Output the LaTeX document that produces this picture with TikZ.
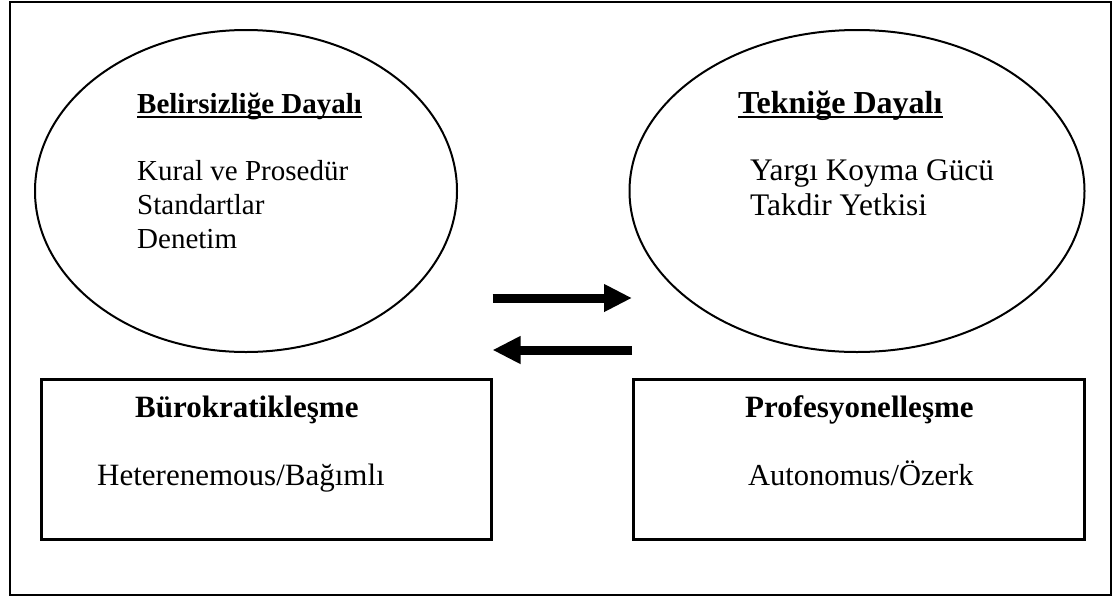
\documentclass[tikz,border=0pt]{standalone}
\usepackage{fontspec}
\setmainfont{Liberation Serif}
\usetikzlibrary{shapes.geometric,arrows.meta,positioning}

\tikzset{
  oval/.style={draw, ellipse, line width=2pt, minimum width=#1, minimum height=322pt, inner sep=0pt},
  panel/.style={draw, rectangle, line width=2.5pt, minimum width=#1, minimum height=160pt, inner sep=0pt, anchor=north west},
  heading/.style={anchor=base west, inner sep=0pt, font=\bfseries\fontsize{#1}{34}\selectfont},
  heading/.default=29,
  item/.style={anchor=base west, inner sep=0pt, font=\fontsize{#1}{34}\selectfont},
  item/.default=29,
  uline/.style={line width=2.5pt},
  bigarrow/.style={line width=9pt, -{Triangle[length=28pt,width=26pt]}}
}

\begin{document}
\begin{tikzpicture}[x=1pt,y=-1pt]
  \useasboundingbox (0,0) rectangle (1114,598);
  \draw[line width=2.5pt] (10,2) rectangle (1111,595);

  % ovals
  \node[oval=422pt] (lell) at (246,191) {};
  \node[oval=455pt] (rell) at (857,191) {};

  % boxes
  \node[panel=450pt] (lbox) at (40,378) {};
  \node[panel=451pt] (rbox) at (632,378) {};

  % left oval text
  \node[heading] (ltitle) at (137,113) {Belirsizliğe Dayalı};
  \draw[uline] ([yshift=-4pt]ltitle.base west) -- ([yshift=-4pt]ltitle.base east);
  \node[item] (kural) at (137,180) {Kural ve Prosedür};
  \node[item] (standart) at (137,214) {Standartlar};
  \node[item] (denetim) at (137,248) {Denetim};

  % right oval text
  \node[heading=32] (rtitle) at (738,113) {Tekniğe Dayalı};
  \draw[uline] ([yshift=-4pt]rtitle.base west) -- ([yshift=-4pt]rtitle.base east);
  \node[item=31.4] (yargi) at (750,180) {Yargı Koyma Gücü};
  \node[item=31.4] (takdir) at (750,215) {Takdir Yetkisi};

  % box text
  \node[heading=31] (burokrat) at (135,417) {Bürokratikleşme};
  \node[item=31] (bagimli) at (97,485) {Heterenemous/Bağımlı};
  \node[heading=31] (profes) at (745,417) {Profesyonelleşme};
  \node[item=30.5] (ozerk) at (748,485) {Autonomus/Özerk};

  % arrows
  \draw[bigarrow] (lbox.north east |- 0,298) -- (rbox.north west |- 0,298);
  \draw[bigarrow] (rbox.north west |- 0,350) -- (lbox.north east |- 0,350);
\end{tikzpicture}
\end{document}
